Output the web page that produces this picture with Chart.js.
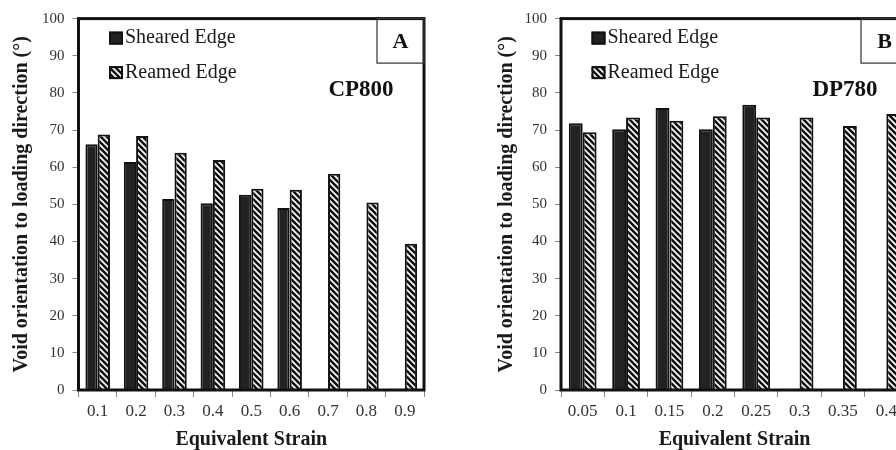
<!DOCTYPE html>
<html>
<head>
<meta charset="utf-8">
<script src="https://cdn.jsdelivr.net/npm/chart.js@4"></script>
<style>
  html, body { margin: 0; padding: 0; background: #fff; }
  body { width: 896px; height: 450px; overflow: hidden; position: relative; }
  .panel { position: absolute; top: 0; }
  #panelA { left: 0; }
  #panelB { left: 450px; }
</style>
</head>
<body>
<div class="panel" id="panelA"><canvas id="chartA" width="440" height="450"></canvas></div>
<div class="panel" id="panelB"><canvas id="chartB" width="470" height="450"></canvas></div>
<script>
// CP800 (panel A)
const strainCP800 = ["0.1", "0.2", "0.3", "0.4", "0.5", "0.6", "0.7", "0.8", "0.9"];
const shearedCP800 = [66.2, 61.4, 51.4, 50.3, 52.6, 49.0, null, null, null];
const reamedCP800 = [68.8, 68.4, 63.9, 61.9, 54.2, 53.9, 58.2, 50.5, 39.4];

// DP780 (panel B)
const strainDP780 = ["0.05", "0.1", "0.15", "0.2", "0.25", "0.3", "0.35", "0.4"];
const shearedDP780 = [71.8, 70.2, 75.9, 70.2, 76.8, null, null, null];
const reamedDP780 = [69.4, 73.4, 72.5, 73.7, 73.4, 73.4, 71.1, 74.3];

// y axis: 0..100 step 10
const yMin = 0, yMax = 100, yStep = 10;

const seriesNames = ["Sheared Edge", "Reamed Edge"];
const yTitle = "Void orientation to loading direction (°)";
const xTitle = "Equivalent Strain";

const serif = "'Liberation Serif', 'Times New Roman', serif";

// diagonal hatch for the reamed bars
function makeHatch() {
  const s = 6;
  const c = document.createElement("canvas");
  c.width = s; c.height = s;
  const g = c.getContext("2d");
  g.fillStyle = "#fff";
  g.fillRect(0, 0, s, s);
  g.strokeStyle = "#111";
  g.lineWidth = 2.6;
  g.beginPath();
  g.moveTo(-1, -1); g.lineTo(s + 1, s + 1);
  g.moveTo(-1, s - 1); g.lineTo(1, s + 1);
  g.moveTo(s - 1, -1); g.lineTo(s + 1, 1);
  g.stroke();
  return g.createPattern(c, "repeat");
}

// frame, legend, panel letter and grade label
const decorations = {
  id: "decorations",
  afterDraw(chart, args, opts) {
    const { ctx, chartArea: a } = chart;
    ctx.save();

    // plot frame
    ctx.strokeStyle = "#111";
    ctx.lineWidth = 3;
    ctx.strokeRect(a.left, a.top, a.right - a.left, a.bottom - a.top);

    // legend
    ctx.font = "20px " + serif;
    ctx.textBaseline = "middle";
    ctx.textAlign = "left";
    chart.data.datasets.forEach((ds, i) => {
      const bx = a.left + 30.5;
      const cy = a.top + 19.5 + i * 34.5;
      ctx.fillStyle = ds.backgroundColor;
      ctx.fillRect(bx, cy - 6.5, 14, 13);
      ctx.strokeStyle = "#111";
      ctx.lineWidth = 2;
      ctx.strokeRect(bx + 1, cy - 5.5, 12, 11);
      ctx.fillStyle = "#1a1a1a";
      ctx.fillText(ds.label, bx + 16, cy);
    });

    // panel letter box
    const bw = 47, bh = 44.5;
    ctx.strokeStyle = "#333";
    ctx.lineWidth = 1.2;
    ctx.strokeRect(a.right - bw, a.top, bw, bh);
    ctx.fillStyle = "#111";
    ctx.font = "bold 22px " + serif;
    ctx.textAlign = "center";
    ctx.fillText(opts.letter, a.right - bw / 2, a.top + bh / 2 + 1);

    // grade label
    ctx.font = "bold 23px " + serif;
    ctx.fillText(opts.grade, a.right - 63, a.top + 71);

    ctx.restore();
  }
};

function panel(canvasId, labels, sheared, reamed, letter, grade, yWidth, yTitlePad, padRight) {
  return new Chart(document.getElementById(canvasId), {
    type: "bar",
    data: {
      labels: labels,
      datasets: [
        {
          label: seriesNames[0],
          data: sheared,
          backgroundColor: "#222",
          borderColor: "#111",
          borderWidth: 2
        },
        {
          label: seriesNames[1],
          data: reamed,
          backgroundColor: makeHatch(),
          borderColor: "#111",
          borderWidth: 2
        }
      ]
    },
    options: {
      responsive: false,
      animation: false,
      layout: { padding: { top: 18.6, right: padRight, left: 0, bottom: 0 } },
      datasets: {
        bar: { categoryPercentage: 0.64, barPercentage: 1.0 }
      },
      scales: {
        x: {
          grid: {
            offset: true,
            drawOnChartArea: false,
            drawTicks: true,
            tickLength: 7,
            color: "#888"
          },
          border: { display: false },
          ticks: {
            color: "#333",
            padding: 4,
            font: { family: serif, size: 17 }
          },
          title: {
            display: true,
            text: xTitle,
            color: "#1a1a1a",
            padding: { top: 0, bottom: 0 },
            font: { family: serif, size: 20, weight: "bold", lineHeight: 1.0 }
          },
          afterFit(scale) { scale.height = 60; }
        },
        y: {
          min: yMin,
          max: yMax,
          grid: {
            drawOnChartArea: false,
            drawTicks: true,
            tickLength: 6,
            color: "#888"
          },
          border: { display: false },
          ticks: {
            stepSize: yStep,
            color: "#333",
            padding: 8,
            font: { family: serif, size: 15 }
          },
          title: {
            display: true,
            text: yTitle,
            color: "#1a1a1a",
            padding: { top: yTitlePad, bottom: 0 },
            font: { family: serif, size: 20, weight: "bold" }
          },
          afterFit(scale) { scale.width = yWidth; }
        }
      },
      plugins: {
        legend: { display: false },
        tooltip: { enabled: false },
        decorations: { letter: letter, grade: grade }
      }
    },
    plugins: [decorations]
  });
}

panel("chartA", strainCP800, shearedCP800, reamedCP800, "A", "CP800", 78.5, 10, 16);
panel("chartB", strainDP780, shearedDP780, reamedDP780, "B", "DP780", 111, 45, 12);
</script>
</body>
</html>
